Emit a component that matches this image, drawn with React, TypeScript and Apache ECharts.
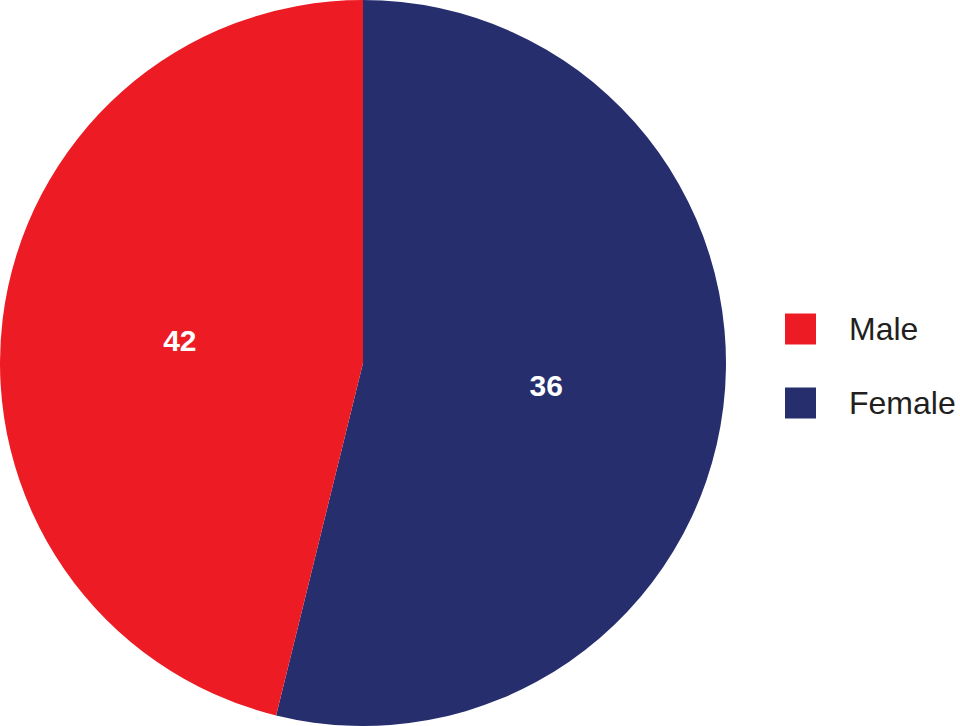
import React, { useEffect, useRef } from "react";
import * as echarts from "echarts";

// Slice order as drawn clockwise from 12 o'clock
const sliceNames = ["Female", "Male"];
// Slice sizes
const sliceValues = [42, 36];
// Numbers printed on the slices in the picture
const printedLabels = ["36", "42"];
const sliceColors = ["#262E6E", "#ED1C24"];
const legendOrder = ["Male", "Female"];

export default function App() {
  const ref = useRef<HTMLDivElement>(null);
  useEffect(() => {
    const chart = echarts.init(ref.current!, null, { renderer: "svg" });
    chart.setOption({
      animation: false,
      backgroundColor: "#ffffff",
      legend: {
        data: legendOrder,
        orient: "vertical",
        left: 785,
        top: 312,
        padding: 0,
        itemWidth: 31,
        itemHeight: 31,
        itemGap: 40,
        icon: "rect",
        textStyle: {
          fontSize: 32,
          lineHeight: 31,
          color: "#231F20",
          fontFamily: "Liberation Sans, Arial, sans-serif",
          padding: [3, 0, 0, 28],
        },
      },
      series: [
        {
          type: "pie",
          center: [363, 363],
          radius: [0, 363],
          startAngle: 90,
          clockwise: true,
          avoidLabelOverlap: false,
          itemStyle: { borderWidth: 0 },
          emphasis: { disabled: true },
          label: {
            show: true,
            position: "inside",
            color: "#ffffff",
            fontSize: 30,
            fontWeight: "bold",
            fontFamily: "Liberation Sans, Arial, sans-serif",
            formatter: (p: any) => printedLabels[p.dataIndex],
          },
          labelLine: { show: false },
          data: sliceNames.map((n, i) => ({
            name: n,
            value: sliceValues[i],
            itemStyle: { color: sliceColors[i] },
          })),
        },
      ],
    });
    return () => chart.dispose();
  }, []);
  return (
    <div
      ref={ref}
      style={{ position: "fixed", left: 0, top: 0, width: 960, height: 726 }}
    />
  );
}
